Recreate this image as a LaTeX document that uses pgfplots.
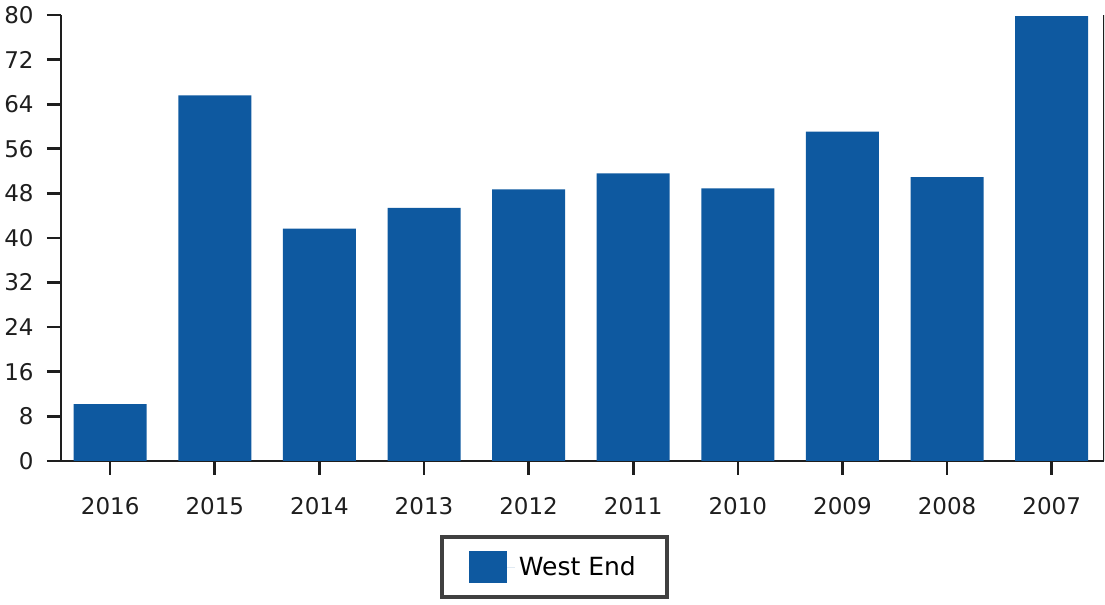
\documentclass[border=0pt]{standalone}
\usepackage{pgfplots}
\pgfplotsset{compat=1.18}
\usepackage{fontspec}
\setmainfont{DejaVu Sans}
\definecolor{barblue}{RGB}{14,89,160}
\definecolor{axgray}{RGB}{30,30,30}
\begin{document}
\begin{tikzpicture}
\useasboundingbox (-30.5pt,-72pt) rectangle (522pt,230.5pt);
\begin{axis}[
  at={(0,0)}, anchor=south west,
  scale only axis,
  width=521.5pt, height=223pt,
  xmin=-0.47, xmax=9.5,
  ymin=0, ymax=80,
  ytick={0,8,...,80},
  xtick={0,...,9},
  xticklabels={2016,2015,2014,2013,2012,2011,2010,2009,2008,2007},
  axis x line*=bottom,
  axis y line*=left,
  axis line style={axgray, line width=1.3pt, -},
  tick style={axgray, line width=1.3pt},
  tick align=outside,
  major tick length=7pt,
  tick label style={font=\fontsize{11.5}{13}\selectfont, text=axgray},
  /pgf/number format/assume math mode=true,
  yticklabel style={anchor=east, inner sep=0pt, xshift=-6.5pt},
  xticklabel style={anchor=north, inner sep=0pt, yshift=-11pt},
  ybar, bar width=36.5pt,
  legend style={at={(axis description cs:0.473,-0.166)}, anchor=north,
    draw=axgray!85, line width=2pt, inner xsep=13.5pt, inner ysep=7pt,
    font=\fontsize{12.5}{15}\selectfont, legend cell align=left},
  legend image code/.code={\fill[barblue] (0pt,-8pt) rectangle (19pt,8pt); \path (0pt,0pt) -- (23pt,0pt);},
]
\addplot[fill=barblue, draw=none] coordinates {
(0,10.2) (1,65.6) (2,41.7) (3,45.4) (4,48.7) (5,51.6) (6,48.9) (7,59.1) (8,50.9) (9,79.8)};
\addlegendentry{West End}
\draw[axgray, line width=1.3pt] (rel axis cs:1,0) -- (rel axis cs:1,1);
\end{axis}
\end{tikzpicture}
\end{document}
